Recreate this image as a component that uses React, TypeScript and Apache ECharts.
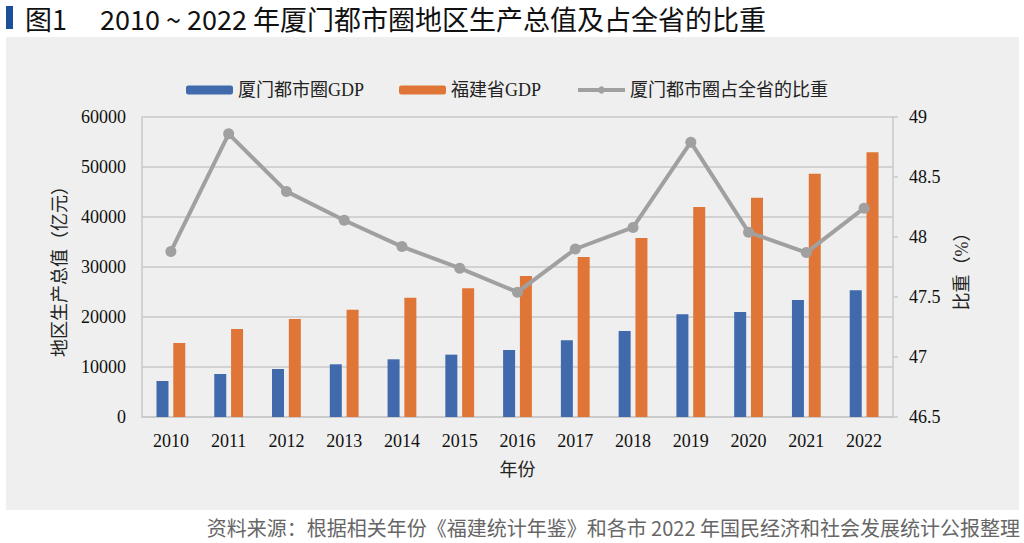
import React, { useEffect, useRef } from "react";
import * as echarts from "echarts";

const years = ["2010", "2011", "2012", "2013", "2014", "2015", "2016", "2017", "2018", "2019", "2020", "2021", "2022"];
const xiamenGDP = [7200, 8600, 9600, 10540, 11540, 12470, 13400, 15340, 17200, 20540, 21000, 23400, 25340];
const fujianGDP = [14800, 17600, 19600, 21460, 23870, 25740, 28200, 32000, 35800, 42000, 43870, 48670, 52930];
const shareRatio = [47.88, 48.86, 48.38, 48.14, 47.92, 47.74, 47.54, 47.9, 48.08, 48.79, 48.04, 47.87, 48.24];

const seriesNames = ["厦门都市圈GDP", "福建省GDP", "厦门都市圈占全省的比重"];
const titleYears = "2010 ~ 2022";
const titleRest = "年厦门都市圈地区生产总值及占全省的比重";
const sourceText = "资料来源：根据相关年份《福建统计年鉴》和各市 2022 年国民经济和社会发展统计公报整理";

const SERIF = '"Liberation Serif", "Noto Sans CJK SC", serif';
const SANS = '"Noto Sans CJK SC", "Liberation Sans", sans-serif';

export default function App() {
  const ref = useRef<HTMLDivElement>(null);
  useEffect(() => {
    if (!ref.current) return;
    const chart = echarts.init(ref.current, null, { renderer: "svg" });
    const gridColor = "#c9c9c9";
    const lineColor = "#a0a0a0";
    chart.setOption({
      animation: false,
      backgroundColor: "transparent",
      textStyle: { fontFamily: SERIF },
      graphic: [
        { type: "rect", shape: { x: 6, y: 6, width: 7, height: 23 }, style: { fill: "#1b4f9c" } },
        {
          type: "text",
          x: 25,
          y: 18,
          style: { text: "图1", fill: "#111", font: `27px ${SANS}`, verticalAlign: "middle" },
        },
        {
          type: "text",
          x: 100,
          y: 18,
          style: {
            text: `{a|${titleYears} }{b|${titleRest}}`,
            verticalAlign: "middle",
            rich: {
              a: { fontSize: 27, fontFamily: SANS, fill: "#111", color: "#111" },
              b: { fontSize: 27, fontFamily: SANS, fill: "#111", color: "#111" },
            },
          },
        },
        {
          type: "text",
          x: 1020,
          y: 527,
          style: { text: sourceText, fill: "#666", font: `20px ${SANS}`, align: "right", verticalAlign: "middle" },
        },
      ],
      legend: {
        top: 76,
        left: 181,
        itemWidth: 47,
        itemHeight: 9,
        itemGap: 35,
        textStyle: { fontSize: 18, color: "#222", fontFamily: SERIF },
        data: [
          { name: seriesNames[0] },
          { name: seriesNames[1] },
          { name: seriesNames[2], lineStyle: { width: 4, color: lineColor }, itemStyle: { color: lineColor } },
        ],
      },
      grid: { left: 142, right: 131, top: 117, bottom: 126, containLabel: false },
      xAxis: {
        type: "category",
        data: years,
        name: "年份",
        nameLocation: "middle",
        nameGap: 44,
        nameTextStyle: { fontSize: 18, color: "#222", fontFamily: SERIF },
        axisLine: { show: true, lineStyle: { color: gridColor, width: 1.5 } },
        axisTick: { show: false },
        axisLabel: { fontSize: 18, color: "#111", margin: 15, fontFamily: SERIF },
      },
      yAxis: [
        {
          type: "value",
          min: 0,
          max: 60000,
          interval: 10000,
          name: "地区生产总值（亿元）",
          nameLocation: "middle",
          nameRotate: 90,
          nameGap: 73,
          nameTextStyle: { fontSize: 18, color: "#222", fontFamily: SERIF },
          axisLine: { show: true, lineStyle: { color: gridColor, width: 1.5 } },
          axisTick: { show: false },
          axisLabel: { fontSize: 18, color: "#111", margin: 16, fontFamily: SERIF, formatter: (v: number) => String(v) },
          splitLine: { show: true, lineStyle: { color: gridColor, width: 1.5 } },
        },
        {
          type: "value",
          min: 46.5,
          max: 49,
          interval: 0.5,
          position: "right",
          name: "比重（%）",
          nameLocation: "middle",
          nameRotate: 90,
          nameGap: 60,
          nameTextStyle: { fontSize: 18, color: "#222", fontFamily: SERIF },
          axisLine: { show: true, lineStyle: { color: gridColor, width: 1.5 } },
          axisTick: { show: true, length: 5, lineStyle: { color: gridColor, width: 1.5 } },
          axisLabel: { fontSize: 18, color: "#111", margin: 16, fontFamily: SERIF, formatter: (v: number) => String(v) },
          splitLine: { show: false },
        },
      ],
      series: [
        {
          name: seriesNames[0],
          type: "bar",
          data: xiamenGDP,
          barWidth: 12,
          barGap: "40%",
          itemStyle: { color: "#416aad" },
        },
        {
          name: seriesNames[1],
          type: "bar",
          data: fujianGDP,
          barWidth: 12,
          barGap: "40%",
          itemStyle: { color: "#df7637" },
        },
        {
          name: seriesNames[2],
          type: "line",
          yAxisIndex: 1,
          data: shareRatio,
          symbol: "circle",
          symbolSize: 11,
          lineStyle: { color: lineColor, width: 4 },
          itemStyle: { color: lineColor },
        },
      ],
    });
    return () => chart.dispose();
  }, []);

  return (
    <div style={{ position: "absolute", left: 0, top: 0, width: 1024, height: 543, background: "#ffffff" }}>
      <div style={{ position: "absolute", left: 6, top: 37, width: 1013, height: 473, background: "#eeefee" }} />
      <div ref={ref} style={{ position: "absolute", left: 0, top: 0, width: 1024, height: 543 }} />
    </div>
  );
}
